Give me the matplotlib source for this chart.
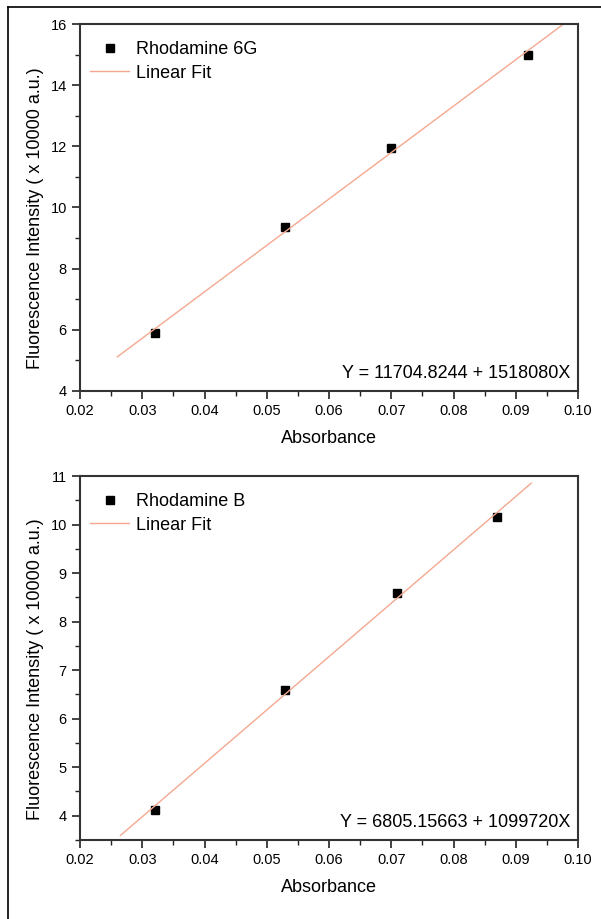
import numpy as np
import matplotlib.pyplot as plt
from matplotlib.lines import Line2D
from matplotlib.ticker import MultipleLocator, FuncFormatter

plt.rcParams['font.family'] = ['Liberation Sans', 'DejaVu Sans']

# Rhodamine 6G
abs_6g = [0.032, 0.053, 0.070, 0.092]
fl_6g = [5.9, 9.35, 11.93, 15.0]
fit_6g = (11704.8244, 1518080)
fit_range_6g = [0.026, 0.098]

# Rhodamine B
abs_b = [0.032, 0.053, 0.071, 0.087]
fl_b = [4.12, 6.6, 8.58, 10.15]
fit_b = (6805.15663, 1099720)
fit_range_b = [0.0265, 0.0925]

fig = plt.figure(figsize=(6.01, 9.19), dpi=100)

# outer frame (left and top edges only)
fig.add_artist(Line2D([8/601, 8/601], [0, 1 - 7/919], color='black', lw=1.2, transform=fig.transFigure))
fig.add_artist(Line2D([8/601, 1], [1 - 7/919, 1 - 7/919], color='black', lw=1.2, transform=fig.transFigure))

ax1 = fig.add_axes([80/601, 1 - 391/919, 498/601, 367/919])
ax2 = fig.add_axes([80/601, 1 - 840/919, 498/601, 364/919])

panels = [
    (ax1, abs_6g, fl_6g, fit_6g, fit_range_6g, 'Rhodamine 6G', (4, 16), 2, 1),
    (ax2, abs_b, fl_b, fit_b, fit_range_b, 'Rhodamine B', (3.5, 11), 1, 0.5),
]

for ax, x, y, fit, fr, name, ylim, ymaj, ymin in panels:
    xf = np.array(fr)
    yf = (fit[0] + fit[1] * xf) / 10000
    ax.plot(x, y, 's', color='black', markersize=5.5, label=name)
    ax.plot(xf, yf, '-', color='#f5a890', lw=1.0, label='Linear Fit')
    ax.set_xlim(0.02, 0.10)
    ax.set_ylim(*ylim)
    ax.xaxis.set_major_locator(MultipleLocator(0.01))
    ax.xaxis.set_minor_locator(MultipleLocator(0.005))
    ax.yaxis.set_major_locator(MultipleLocator(ymaj))
    ax.yaxis.set_minor_locator(MultipleLocator(ymin))
    ax.xaxis.set_major_formatter(FuncFormatter(lambda v, p: '%.2f' % v))
    ax.yaxis.set_major_formatter(FuncFormatter(lambda v, p: '%d' % round(v)))
    ax.tick_params(which='major', direction='out', length=6, width=1.2, labelsize=10.5, color='#222')
    ax.tick_params(which='minor', direction='out', length=3.5, width=1.0, color='#222')
    for s in ax.spines.values():
        s.set_linewidth(1.5)
        s.set_color('#333333')
    h = ax.get_position().height * 919
    ax.set_xlabel('Absorbance', fontsize=13, va='top')
    ax.xaxis.set_label_coords(0.5, -39 / h)
    ax.set_ylabel('Fluorescence Intensity ( x 10000 a.u.)', fontsize=13)
    ax.yaxis.set_label_coords(-36 / 498, 0.5 - 11 / h)
    ax.legend(loc='upper left', bbox_to_anchor=(0.005, 1 - 10 / h), frameon=False, fontsize=13,
              handlelength=2.2, handletextpad=0.35, borderaxespad=0, borderpad=0.4,
              labelspacing=0.35)
    ax.text(0.985, 0.025, 'Y = %s + %dX' % (repr(fit[0]), fit[1]), transform=ax.transAxes,
            ha='right', va='bottom', fontsize=13)

fig.savefig('out.png', dpi=100)
